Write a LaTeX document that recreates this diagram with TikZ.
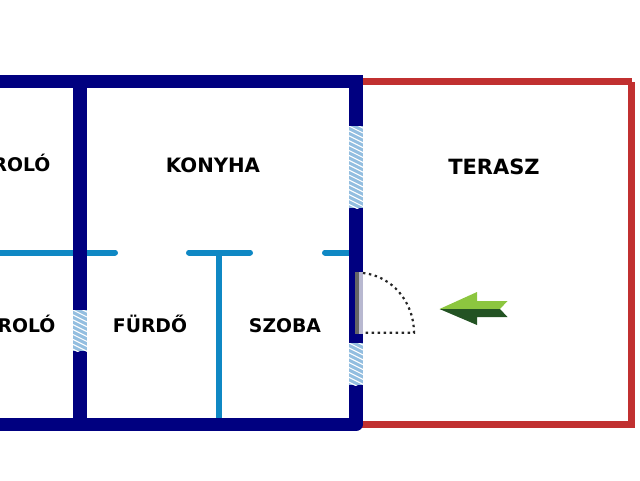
\documentclass[tikz,border=0pt]{standalone}
\usepackage{fontspec}
\setmainfont{DejaVu Sans}
\definecolor{navy}{HTML}{000080}
\definecolor{terr}{HTML}{C13030}
\definecolor{part}{HTML}{0F88C4}
\definecolor{glass}{HTML}{93BEE0}
\definecolor{lgreen}{HTML}{8CC63F}
\definecolor{dgreen}{HTML}{235323}
\definecolor{doorlight}{HTML}{B8B8D0}
\tikzset{
 x=1pt,y=-1pt,
 wallline/.style={draw=navy,line width=13.5pt},
 terrline/.style={draw=terr,line width=6.5pt},
 partline/.style={draw=part,line width=6pt,line cap=round},
 swing/.style={draw=black!85,line width=2.2pt,dash pattern=on 2.4pt off 3.6pt},
 roomlabel/.style={font=\bfseries\fontsize{18.8}{20}\selectfont,text=black,inner sep=0pt,anchor=base},
 midlabel/.style={roomlabel,font=\bfseries\fontsize{19.8}{22}\selectfont},
 biglabel/.style={roomlabel,font=\bfseries\fontsize{21}{23}\selectfont},
}
\newcommand{\hatchwin}[4]{% x0 y0 x1 y1
 \begin{scope}
 \clip (#1,#2) rectangle (#3,#4);
 \fill[glass] (#1,#2) rectangle (#3,#4);
 \foreach \k in {-3,...,18}{
   \draw[white,line width=1.1pt] (#1,#2+\k*4.9) -- (#3,#2+\k*4.9+7);
 }
 \end{scope}}
\begin{document}
\begin{tikzpicture}
\useasboundingbox (0,0) rectangle (640,480);
% terrace
\coordinate (ta) at (356,81.5);
\coordinate (tb) at (632,81.5);
\coordinate (tc) at (631.5,82);
\coordinate (td) at (631.5,424.5);
\coordinate (te) at (356,424.5);
\draw[terrline] (ta) -- (tb);
\draw[terrline] (tc) -- (td) -- (te);
% partitions
\coordinate (p1) at (-5,252.5); \coordinate (p2) at (115,252.5);
\coordinate (p3) at (189,252.5); \coordinate (p4) at (250,252.5);
\coordinate (p5) at (325,252.5); \coordinate (p6) at (352,252.5);
\coordinate (p7) at (218.5,252.5); \coordinate (p8) at (218.5,420);
\draw[partline] (p1) -- (p2);
\draw[partline] (p3) -- (p4);
\draw[partline] (p5) -- (p6);
\draw[draw=part,line width=6pt] (p7) -- (p8);
% walls
\coordinate (w1) at (-10,81.5); \coordinate (w2) at (356,81.5);
\coordinate (w2b) at (356,75);
\coordinate (w3) at (356,424.5); \coordinate (w4) at (-10,424.5);
\coordinate (w5) at (80,81.5); \coordinate (w6) at (80,424.5);
\draw[wallline,line join=round] (w2b) -- (w3) -- (w4);
\draw[wallline] (w1) -- (w2);
\fill[navy] (349.25,74.75) rectangle (362.75,88.25);
\draw[wallline] (w5) -- (w6);
% windows
\hatchwin{349}{126}{363}{208}
\hatchwin{349}{343}{363}{385}
\hatchwin{73}{310}{87}{351}
% door
\fill[black!60] (354.5,272) rectangle (358.5,333.5);
\fill[doorlight] (358.5,272) rectangle (363,333.5);
\coordinate (da) at (363,273); \coordinate (db) at (414,332.8); \coordinate (dc) at (363,332.8);
\draw[swing] (da) .. controls (392,276) and (414,302) .. (db) -- (dc);
% arrow
\fill[lgreen] (439.5,309) -- (477,292) -- (477,301) -- (507.5,301) -- (500,309) -- cycle;
\fill[dgreen] (439.5,309) -- (477,325) -- (477,317) -- (507.5,317) -- (500,309) -- cycle;
% labels
\node[midlabel] (konyha) at (213,172.5) {KONYHA};
\node[biglabel] (terasz) at (494,174.5) {TERASZ};
\node[roomlabel] (furdo) at (150,332) {FÜRDŐ};
\node[roomlabel] (szoba) at (285,332) {SZOBA};
\node[roomlabel,anchor=base east] (t1) at (50.5,171.5) {TÁROLÓ};
\node[roomlabel,anchor=base east] (t2) at (55.5,332) {TÁROLÓ};
\end{tikzpicture}
\end{document}
